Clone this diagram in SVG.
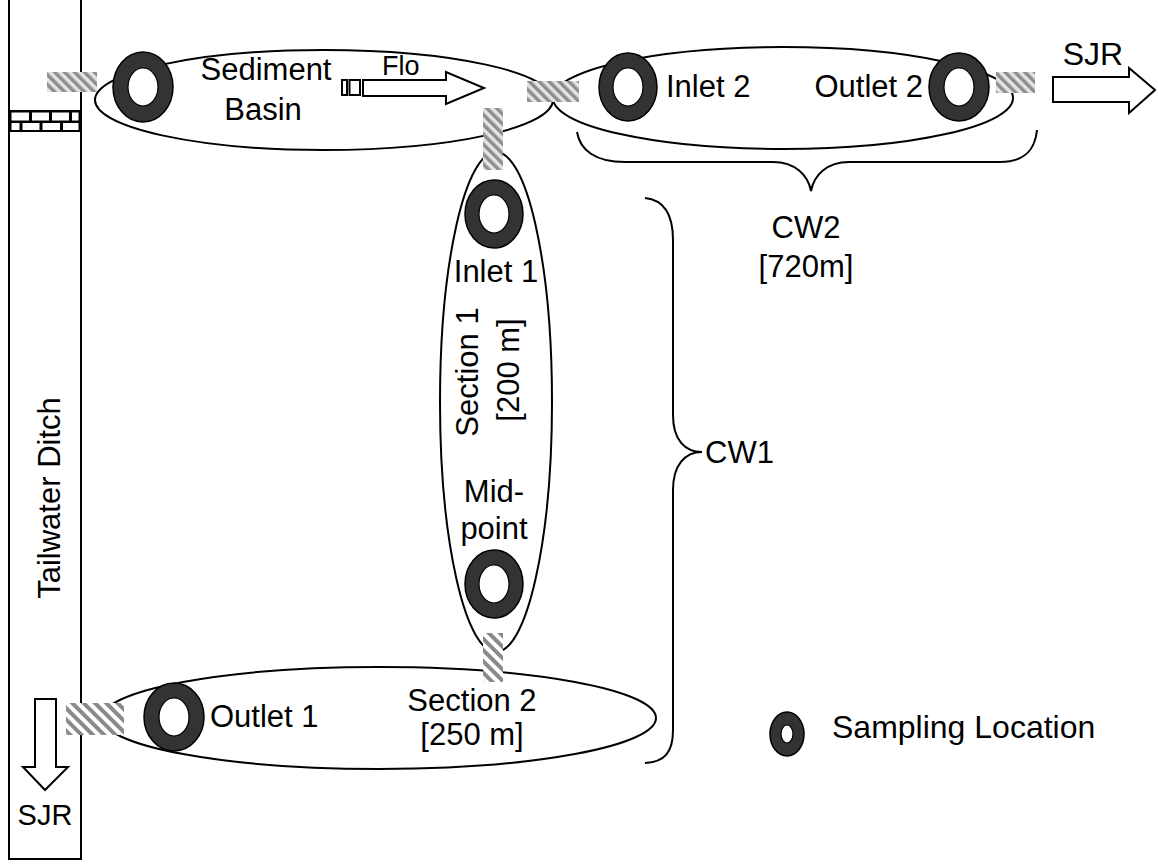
<svg xmlns="http://www.w3.org/2000/svg" width="1158" height="865" viewBox="0 0 1158 865">
<defs>
<pattern id="hatch" width="7" height="7" patternUnits="userSpaceOnUse" patternTransform="rotate(-45)">
<rect width="7" height="7" fill="#e4e4e4"/>
<rect width="3.5" height="7" fill="#8e8e8e"/>
</pattern>
<pattern id="hatch2" width="8" height="8" patternUnits="userSpaceOnUse" patternTransform="rotate(-45)">
<rect width="8" height="8" fill="#ffffff"/>
<rect width="4" height="8" fill="#8a8a8a"/>
</pattern>
</defs>
<style>
.t{font-family:"Liberation Sans",Arial,sans-serif;font-size:31px;fill:#000}
.m{text-anchor:middle}
.ln{fill:none;stroke:#000;stroke-width:2}
.el{fill:#fff;stroke:#000;stroke-width:2}
.ring{fill:#333;stroke:#000;stroke-width:1.5}
.hole{fill:#fff;stroke:#000;stroke-width:1.2}
.arr{fill:#fff;stroke:#000;stroke-width:2;stroke-linejoin:miter}
</style>
<rect width="1158" height="865" fill="#fff"/>

<g id="tailwater-ditch">
<rect x="9" y="-3" width="72" height="862" class="el"/>
<rect x="9" y="110" width="72" height="22" fill="#000"/>
<g fill="#fff">
<rect x="11.5" y="112.5" width="17.5" height="8"/>
<rect x="32" y="112.5" width="17" height="8"/>
<rect x="52" y="112.5" width="17" height="8"/>
<rect x="72" y="112.5" width="6.5" height="8"/>
<rect x="11.5" y="123" width="8" height="7"/>
<rect x="22.5" y="123" width="17" height="7"/>
<rect x="42.5" y="123" width="17.5" height="7"/>
<rect x="63" y="123" width="15.5" height="7"/>
</g>
<text class="t m" transform="translate(60,498) rotate(-90)">Tailwater Ditch</text>
<text class="t m" x="45" y="825" style="font-size:29px">SJR</text>
</g>

<g id="sediment-basin">
<ellipse cx="324" cy="100" rx="229" ry="50" class="el"/>
<text class="t m" x="266" y="80">Sediment</text>
<text class="t m" x="263" y="120">Basin</text>
</g>

<g id="cw2">
<ellipse cx="783" cy="98" rx="230" ry="51" class="el"/>
<text class="t" x="666" y="97">Inlet 2</text>
<text class="t" x="923" y="97" text-anchor="end">Outlet 2</text>
</g>

<g id="section1">
<ellipse cx="496" cy="402" rx="56" ry="250" class="el"/>
<text class="t m" x="496" y="282">Inlet 1</text>
<text class="t m" transform="translate(478,372) rotate(-90)">Section 1</text>
<text class="t m" transform="translate(519,370) rotate(-90)">[200 m]</text>
<text class="t m" x="494" y="502">Mid-</text>
<text class="t m" x="494" y="539">point</text>
</g>

<g id="section2">
<ellipse cx="379" cy="718" rx="277" ry="51" class="el"/>
<text class="t" x="210" y="727">Outlet 1</text>
<text class="t m" x="472" y="711">Section 2</text>
<text class="t m" x="472" y="745">[250 m]</text>
</g>

<g id="connectors">
<rect x="47" y="72" width="50" height="20" fill="url(#hatch)"/>
<rect x="527" y="81" width="52" height="21" fill="url(#hatch)"/>
<rect x="483" y="108" width="20" height="62" fill="url(#hatch)"/>
<rect x="996" y="72" width="39" height="21" fill="url(#hatch)"/>
<rect x="483" y="633" width="20" height="49" fill="url(#hatch2)"/>
<rect x="66" y="703" width="58" height="32" fill="url(#hatch2)"/>
<g id="flow-arrow">
<rect x="342" y="80" width="5" height="15" class="arr" stroke-width="1.5"/>
<rect x="349.5" y="80" width="10.5" height="15" class="arr" stroke-width="1.5"/>
<polygon points="363,80 446,80 446,72 484,88 446,104 446,96 363,96" class="arr"/>
<text class="t" x="382" y="75" style="font-size:27px">Flo</text>
</g>
<g id="sjr-right">
<polygon points="1053,77 1129,77 1129,68 1155,90 1129,113 1129,102 1053,102" class="arr"/>
<text class="t m" x="1093" y="65" style="font-size:32px">SJR</text>
</g>
<polygon id="sjr-down" points="35,699 56,699 56,767 68,767 45,790 23,767 35,767" class="arr"/>
</g>

<g id="sampling-points">
<g id="s-basin"><ellipse cx="143" cy="87" rx="30" ry="35" class="ring"/><ellipse cx="143" cy="87" rx="15" ry="19" class="hole"/></g>
<g id="s-inlet2"><ellipse cx="628" cy="87" rx="29" ry="34" class="ring"/><ellipse cx="628" cy="87" rx="15" ry="19" class="hole"/></g>
<g id="s-outlet2"><ellipse cx="959" cy="87" rx="30" ry="34" class="ring"/><ellipse cx="959" cy="87" rx="15" ry="19" class="hole"/></g>
<g id="s-inlet1"><ellipse cx="494" cy="214" rx="29" ry="34" class="ring"/><ellipse cx="494" cy="214" rx="15" ry="19" class="hole"/></g>
<g id="s-mid"><ellipse cx="494" cy="584" rx="29" ry="34" class="ring"/><ellipse cx="494" cy="584" rx="15" ry="19" class="hole"/></g>
<g id="s-outlet1"><ellipse cx="174" cy="717" rx="30" ry="34" class="ring"/><ellipse cx="174" cy="717" rx="15" ry="19" class="hole"/></g>
</g>

<g id="brace-cw2">
<path class="ln" d="M577,132 C580,150 595,162 625,162 L773,162 C795,162 808,175 811,191 C814,175 827,162 849,162 L1000,162 C1025,162 1035,150 1037,130"/>
<text class="t m" x="806" y="238">CW2</text>
<text class="t m" x="806" y="277">[720m]</text>
</g>

<g id="brace-cw1">
<path class="ln" d="M645,198 C665,200 673,215 673,240 L673,415 C673,440 685,452 702,452 C685,452 673,465 673,490 L673,730 C673,752 665,762 645,763"/>
<text class="t" x="705" y="463">CW1</text>
</g>

<g id="legend">
<ellipse cx="787" cy="734" rx="17" ry="22" class="ring"/>
<ellipse cx="787" cy="734" rx="6" ry="9" class="hole"/>
<text class="t" x="832" y="738" style="font-size:32px">Sampling Location</text>
</g>
</svg>
